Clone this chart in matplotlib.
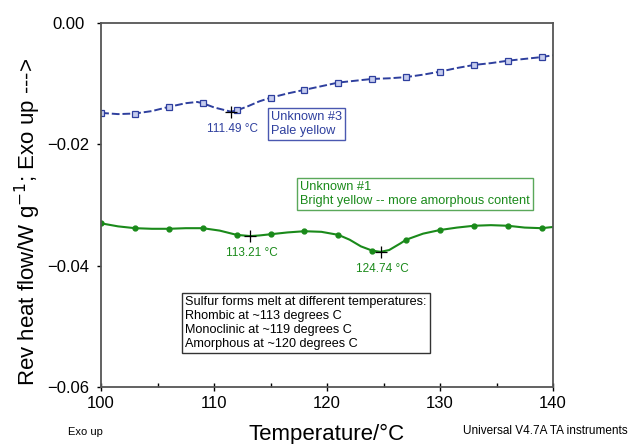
import matplotlib
matplotlib.use("Agg")
import matplotlib.pyplot as plt
from matplotlib.ticker import MultipleLocator

plt.rcParams['font.family'] = ['Liberation Sans', 'DejaVu Sans']

# ---- data ----
blue_T = [100, 101.5, 103, 104.5, 106, 107.5, 108.5, 109, 110, 111.49, 112, 113, 114, 115,
          116.5, 118, 119.5, 121, 122.5, 124, 125.5, 127, 128.5, 130, 131.5, 133, 134.5,
          136, 137.5, 139, 140]
blue_v = [-0.0148, -0.0150, -0.0149, -0.0145, -0.0138, -0.0132, -0.0130, -0.0132, -0.0139,
          -0.0146, -0.0144, -0.0137, -0.0129, -0.0123, -0.0116, -0.0110, -0.0104, -0.0098,
          -0.0095, -0.0092, -0.0091, -0.0089, -0.0085, -0.0080, -0.0074, -0.0069, -0.0066,
          -0.0062, -0.0059, -0.0056, -0.0053]
blue_mark_T = [100, 103, 106, 109, 112, 115, 118, 121, 124, 127, 130, 133, 136, 139]
blue_mark_v = [-0.0148, -0.0149, -0.0138, -0.0132, -0.0144, -0.0123, -0.0110, -0.0098,
               -0.0092, -0.0089, -0.0080, -0.0069, -0.0062, -0.0056]

green_T = [100, 101.5, 103, 104.5, 106, 107.5, 109, 110.5, 112, 113.21, 114, 115, 116.5, 118,
           119.5, 121, 122, 123, 124, 124.74, 125.5, 126.5, 127, 128.5, 130, 131.5, 133,
           134.5, 136, 137.5, 139, 140]
green_v = [-0.0330, -0.0335, -0.0338, -0.0339, -0.0339, -0.0338, -0.0338, -0.0342, -0.0349,
           -0.0351, -0.0350, -0.0348, -0.0345, -0.0343, -0.0344, -0.0349, -0.0357, -0.0368,
           -0.0375, -0.0377, -0.0374, -0.0363, -0.0357, -0.0347, -0.0341, -0.0337, -0.0334,
           -0.0333, -0.0334, -0.0337, -0.0338, -0.0336]
green_mark_T = [100, 103, 106, 109, 112, 115, 118, 121, 124, 127, 130, 133, 136, 139]
green_mark_v = [-0.0330, -0.0338, -0.0339, -0.0338, -0.0349, -0.0348, -0.0343, -0.0349,
                -0.0375, -0.0357, -0.0341, -0.0334, -0.0334, -0.0338]

peaks_T = [111.49, 113.21, 124.74]
peaks_v = [-0.0146, -0.0351, -0.0377]
peak_labels = ["111.49 °C", "113.21 °C", "124.74 °C"]

BLUE = '#2e3f9e'
GREEN = '#1a8a1a'

fig = plt.figure(figsize=(6.32, 4.44), dpi=100)
ax = fig.add_axes([0.160, 0.128, 0.715, 0.820])

ax.plot(blue_T, blue_v, color=BLUE, lw=1.4, ls=(0, (4, 1.5)))
ax.plot(blue_mark_T, blue_mark_v, ls='none', marker='s', ms=3.8, mfc='#c5ccee', mec=BLUE, mew=0.9)
ax.plot(green_T, green_v, color=GREEN, lw=1.5)
ax.plot(green_mark_T, green_mark_v, ls='none', marker='o', ms=3.5, color=GREEN)

ax.plot(peaks_T, peaks_v, ls='none', marker='+', ms=9, mew=0.9, color='black')
peak_colors = [BLUE, GREEN, GREEN]
for t, v, lab, c in zip(peaks_T, peaks_v, peak_labels, peak_colors):
    ax.annotate(lab, (t, v), xytext=(1, -8), textcoords='offset points',
                ha='center', va='top', fontsize=8.5, color=c)

ax.text(0.376, 0.758, "Unknown #3\nPale yellow", transform=ax.transAxes, ha='left', va='top',
        fontsize=9.2, color=BLUE, linespacing=1.2,
        bbox=dict(boxstyle='square,pad=0.25', fc='white', ec='#4a58b0', lw=1.0))
ax.text(0.440, 0.566, "Unknown #1\nBright yellow -- more amorphous content", transform=ax.transAxes,
        ha='left', va='top', fontsize=9.2, color=GREEN, linespacing=1.2,
        bbox=dict(boxstyle='square,pad=0.25', fc='white', ec='#5aa85a', lw=1.0))
ax.text(0.186, 0.250, "Sulfur forms melt at different temperatures:\nRhombic at ~113 degrees C\n"
        "Monoclinic at ~119 degrees C\nAmorphous at ~120 degrees C", transform=ax.transAxes,
        ha='left', va='top', fontsize=9.1, color='black', linespacing=1.2,
        bbox=dict(boxstyle='square,pad=0.25', fc='white', ec='#333333', lw=1.0))

ax.set_xlim(100, 140)
ax.set_ylim(-0.06, 0.0)
ax.xaxis.set_major_locator(MultipleLocator(10))
ax.xaxis.set_minor_locator(MultipleLocator(5))
ax.yaxis.set_major_locator(MultipleLocator(0.02))
ax.yaxis.set_major_formatter(matplotlib.ticker.FuncFormatter(lambda v, p: f"{v:.2f}".replace('-', '\u2212')))
ax.tick_params(axis='x', which='major', direction='inout', length=6, width=1, labelsize=12, pad=3)
ax.tick_params(axis='x', which='minor', direction='in', length=3, width=1)
ax.tick_params(axis='y', which='major', direction='out', length=3, width=1, labelsize=12, pad=20.5)
for lab in ax.get_yticklabels():
    lab.set_horizontalalignment('center')
for s in ax.spines.values():
    s.set_color('#555555')
    s.set_linewidth(1.3)

ax.set_xlabel("Temperature/°C", fontsize=16, labelpad=9.5)
ax.set_ylabel("Rev heat flow/W g$^{-1}$; Exo up --->", fontsize=16)
ax.yaxis.set_label_coords(-0.128, 0.455)

fig.text(0.108, 0.015, "Exo up", fontsize=8, ha='left', va='bottom')
fig.text(0.993, 0.015, "Universal V4.7A TA instruments", fontsize=8.5, ha='right', va='bottom')

fig.savefig("out.png", dpi=100)
